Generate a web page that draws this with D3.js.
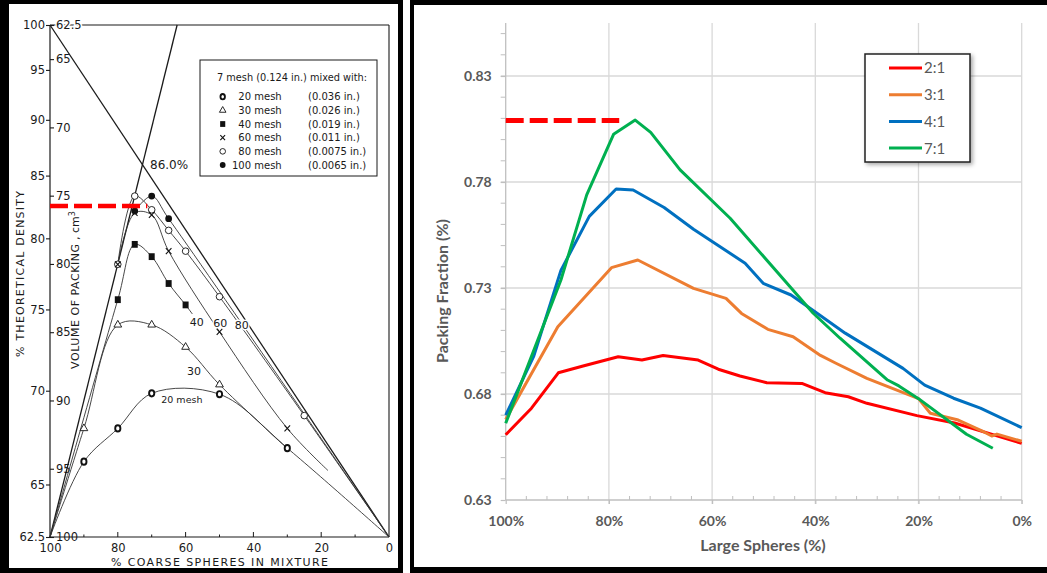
<!DOCTYPE html>
<html>
<head>
<meta charset="utf-8">
<title>Packing of binary sphere mixtures</title>
<script src="https://cdn.jsdelivr.net/npm/d3@7/dist/d3.min.js"></script>
<style>
  html, body { margin: 0; padding: 0; background: #fff; }
  svg { display: block; }
</style>
</head>
<body>
<svg id="chart" width="1047" height="573"></svg>
<script>
// ===== Left panel: 7 mesh coarse spheres mixed with finer spheres =====
const coarseTicks = [100, 80, 60, 40, 20, 0];
const coarseMinorTicks = [90, 70, 50, 30, 10];
const densityTicks = [100, 95, 90, 85, 80, 75, 70, 65, 62.5];
const volumeTicks = [62.5, 65, 70, 75, 80, 85, 90, 95, 100];

const meshLabels = ["20 mesh", "30 mesh", "40 mesh", "60 mesh", "80 mesh", "100 mesh"];
const meshSizes = ["(0.036 in.)", "(0.026 in.)", "(0.019 in.)", "(0.011 in.)", "(0.0075 in.)", "(0.0065 in.)"];
const meshMarkers = ["bold", "triangle", "square", "cross", "circle", "dot"];

// measured points: [% coarse spheres, % theoretical density]
const mesh20 = [[90, 66.15], [80, 67.9], [70, 69.85], [50, 69.8], [30, 66.85]];
const mesh30 = [[90, 67.9], [80, 74.0], [70, 74.0], [60, 72.6], [50, 70.35]];
const mesh40 = [[80, 75.65], [75, 79.55], [70, 78.65], [65, 76.75], [60, 75.3]];
const mesh60 = [[80, 78.1], [75, 81.95], [70, 81.8], [65, 79.05], [50, 73.55], [30, 67.9]];
const mesh80 = [[80, 78.1], [75, 83.3], [70, 82.2], [65, 80.6], [60, 79.05], [50, 75.85], [25, 68.6]];
const mesh100 = [[75, 82.1], [70, 83.3], [65, 81.5]];

// single-size packings at either end of the mixture range
const coarseOnly = [100, 62.5];
const fineOnly = [0, 62.5];
// ideal packing limits (straight lines in packing volume)
const idealFineFill = [[100, 100], [0, 62.5]];
const idealCoarseFill = [[100, 62.5], [62.5, 100]];
const idealPeak = 86.0;
const markedDensity = 82.5;
const markedDensityEnd = 71.3;

// ===== Right panel: packing fraction vs. share of large spheres =====
const ratioNames = ["2:1", "3:1", "4:1", "7:1"];
const ratioColors = ["#FF0000", "#ED7D31", "#0070C0", "#00B050"];
const fractionTicks = [0.63, 0.68, 0.73, 0.78, 0.83];
const largeTicks = [100, 80, 60, 40, 20, 0];

const large21 = [100, 95, 89.8, 85, 78.2, 73.6, 69.5, 62.7, 58.8, 54.6, 49.4, 42.6, 38.1, 33.6, 30, 20.3, 13, 0];
const pack21 = [0.6608, 0.6733, 0.690, 0.6932, 0.6976, 0.696, 0.6982, 0.696, 0.6917, 0.6885, 0.6853, 0.685, 0.6806, 0.6787, 0.6756, 0.6698, 0.6663, 0.6567];

const large31 = [100, 89.9, 79.5, 74.4, 63.6, 57.3, 54.3, 49.2, 44.3, 39, 36, 30, 20, 17.7, 12.3, 7.4, 5.8, 4.8, 0];
const pack31 = [0.668, 0.7117, 0.7396, 0.7432, 0.7298, 0.7251, 0.718, 0.7105, 0.707, 0.6982, 0.6945, 0.6874, 0.6778, 0.6709, 0.6677, 0.6622, 0.6602, 0.6611, 0.6577];

const large41 = [100, 94.6, 89.3, 83.8, 78.6, 75.3, 69.3, 63.6, 53.6, 50.1, 44.7, 40.2, 34.2, 23, 18.8, 13.2, 8, 0];
const pack41 = [0.670, 0.6976, 0.7383, 0.7638, 0.7767, 0.7762, 0.768, 0.7577, 0.7417, 0.7322, 0.7267, 0.719, 0.7087, 0.6921, 0.6842, 0.678, 0.6733, 0.6641];

const large71 = [100, 89.3, 84.3, 79.1, 74.9, 71.9, 66.2, 56.5, 40.4, 35.2, 26, 23.8, 20, 10.7, 5.6];
const pack71 = [0.6662, 0.7338, 0.7739, 0.8025, 0.8092, 0.8034, 0.7857, 0.7629, 0.7181, 0.7063, 0.6866, 0.6838, 0.6778, 0.661, 0.6544];

const peakFraction = 0.809;
const peakFractionEnd = 78;

// ------------------------------------------------------------------
const svg = d3.select("#chart");
const ink = "#1a1a1a";
const oldFont = "DejaVu Sans";

// panel frames
svg.append("rect").attr("x", 0).attr("y", 0).attr("width", 403).attr("height", 573).attr("fill", "#000");
svg.append("rect").attr("x", 9).attr("y", 4).attr("width", 389).attr("height", 564).attr("fill", "#fff");
svg.append("rect").attr("x", 410).attr("y", 0).attr("width", 637).attr("height", 573).attr("fill", "#000");
svg.append("rect").attr("x", 414).attr("y", 5).attr("width", 633).attr("height", 562).attr("fill", "#fff");

// ================= left panel =================
const gL = svg.append("g").attr("font-family", oldFont);
const xL = d3.scaleLinear().domain([100, 0]).range([50, 389]);
const vL = d3.scaleLinear().domain([62.5, 100]).range([25, 537]);   // packing volume, cm^3
const yL = d => vL(6250 / d);                                         // theoretical density -> volume

// outer frame (top and right)
gL.append("line").attr("x1", xL(100)).attr("x2", xL(0)).attr("y1", vL(62.5)).attr("y2", vL(62.5))
  .attr("stroke", ink).attr("stroke-width", 1.1);
gL.append("line").attr("x1", xL(0)).attr("x2", xL(0)).attr("y1", vL(62.5)).attr("y2", vL(100))
  .attr("stroke", ink).attr("stroke-width", 1.1);

// density axis (outside) and volume axis (inside)
const fmt = d3.format("~g");
const denAxis = gL.append("g").attr("transform", `translate(${xL(100)},0)`)
  .call(d3.axisLeft(vL).tickValues(densityTicks.map(d => 6250 / d))
    .tickFormat(v => fmt(Math.round(6250 / v * 10) / 10)).tickSize(4).tickPadding(1));
const volAxis = gL.append("g").attr("transform", `translate(${xL(100)},0)`)
  .call(d3.axisRight(vL).tickValues(volumeTicks).tickFormat(fmt).tickSize(4).tickPadding(2));
[denAxis, volAxis].forEach(g => {
  g.select(".domain").remove();
  g.attr("font-family", oldFont).attr("font-size", 11.5);
  g.selectAll("line").attr("stroke", ink).attr("stroke-width", 1.1);
  g.selectAll("text").attr("fill", ink);
});
volAxis.selectAll("text").style("paint-order", "stroke").attr("stroke", "#fff").attr("stroke-width", 3);
gL.append("line").attr("x1", xL(100)).attr("x2", xL(100)).attr("y1", vL(62.5)).attr("y2", vL(100))
  .attr("stroke", ink).attr("stroke-width", 1.2);

// coarse-sphere axis
const botAxis = gL.append("g").attr("transform", `translate(0,${vL(100)})`)
  .call(d3.axisBottom(xL).tickValues(coarseTicks).tickFormat(fmt).tickSize(0).tickPadding(7));
botAxis.select(".domain").remove();
botAxis.attr("font-family", oldFont).attr("font-size", 11.5).selectAll("text").attr("fill", ink);
gL.append("line").attr("x1", xL(100)).attr("x2", xL(0)).attr("y1", vL(100)).attr("y2", vL(100))
  .attr("stroke", ink).attr("stroke-width", 1.2);
gL.selectAll(".majTick").data(coarseTicks.slice(1, -1)).join("line")
  .attr("x1", d => xL(d)).attr("x2", d => xL(d)).attr("y1", vL(100)).attr("y2", vL(100) - 5)
  .attr("stroke", ink);
gL.selectAll(".minTick").data(coarseMinorTicks).join("line")
  .attr("x1", d => xL(d)).attr("x2", d => xL(d)).attr("y1", vL(100)).attr("y2", vL(100) - 2.5)
  .attr("stroke", ink);

// axis titles
gL.append("text").attr("x", (xL(100) + xL(0)) / 2).attr("y", 566)
  .attr("text-anchor", "middle").attr("font-size", 11).attr("fill", ink)
  .attr("textLength", 217).attr("lengthAdjust", "spacing")
  .text("% COARSE SPHERES IN MIXTURE");
gL.append("text").attr("transform", "translate(24,274) rotate(-90)")
  .attr("text-anchor", "middle").attr("font-size", 11).attr("fill", ink)
  .attr("textLength", 166).attr("lengthAdjust", "spacing")
  .text("% THEORETICAL DENSITY");
const volTitle = gL.append("text").attr("transform", "translate(79,290) rotate(-90)")
  .attr("text-anchor", "middle").attr("font-size", 11).attr("fill", ink);
volTitle.append("tspan").attr("textLength", 125).attr("lengthAdjust", "spacing").text("VOLUME OF PACKING");
volTitle.append("tspan").text(" ,  cm");
volTitle.append("tspan").attr("font-size", 8).attr("dy", -4).text("3");

// ideal limit lines
const lineL = d3.line().x(p => xL(p[0])).y(p => yL(p[1]));
[idealFineFill, idealCoarseFill].forEach(seg => {
  gL.append("path").attr("d", lineL(seg)).attr("fill", "none").attr("stroke", ink).attr("stroke-width", 1.3);
});
gL.append("text").attr("x", 150).attr("y", 169).attr("font-size", 12).attr("fill", ink)
  .text(d3.format(".1f")(idealPeak) + "%");

// mixture curves
const curveL = d3.line().x(p => xL(p[0])).y(p => yL(p[1])).curve(d3.curveCatmullRom.alpha(0.5));
const curves = [
  [coarseOnly, ...mesh20, fineOnly],
  [coarseOnly, ...mesh30, mesh20[4]],
  [coarseOnly, ...mesh40, [58, 74.7]],
  [...mesh60, [18, 65.7]],
  [...mesh80, fineOnly],
  [...mesh100, fineOnly]
];
curves.forEach(c => {
  gL.append("path").attr("d", curveL(c)).attr("fill", "none").attr("stroke", "#333").attr("stroke-width", 0.9);
});

// inline curve labels
const curveLabels = [
  { t: "40", c: 56.7, d: 74.2 },
  { t: "60", c: 49.8, d: 74.1 },
  { t: "80", c: 43.4, d: 74.0 },
  { t: "30", c: 57.5, d: 71.17 },
  { t: "20 mesh", c: 61.1, d: 69.5 }
];
gL.selectAll(".clab").data(curveLabels).join("text")
  .attr("x", d => xL(d.c)).attr("y", d => yL(d.d)).attr("dy", "0.35em")
  .attr("text-anchor", "middle").attr("font-size", d => d.t.length > 2 ? 9.5 : 11).attr("fill", ink)
  .style("paint-order", "stroke").attr("stroke", "#fff").attr("stroke-width", 3)
  .text(d => d.t);

// markers
function drawMarker(sel, kind, s) {
  s = s || 1;
  if (kind === "bold") {
    sel.append("ellipse").attr("rx", 2.6 * s).attr("ry", 3.1 * s).attr("fill", "#fff").attr("stroke", "#111").attr("stroke-width", 1.9);
  } else if (kind === "triangle") {
    sel.append("path").attr("d", d3.symbol(d3.symbolTriangle, 26 * s * s)()).attr("fill", "#fff").attr("stroke", "#111").attr("stroke-width", 0.9);
  } else if (kind === "square") {
    sel.append("rect").attr("x", -3 * s).attr("y", -3.4 * s).attr("width", 6 * s).attr("height", 6.8 * s).attr("fill", "#111");
  } else if (kind === "cross") {
    sel.append("path").attr("d", `M${-2.8 * s},${-3 * s}L${2.8 * s},${3 * s}M${-2.8 * s},${3 * s}L${2.8 * s},${-3 * s}`)
      .attr("stroke", "#111").attr("stroke-width", 1.1);
  } else if (kind === "circle") {
    sel.append("circle").attr("r", 3.3 * s).attr("fill", "#fff").attr("stroke", "#111").attr("stroke-width", 0.9);
  } else {
    sel.append("circle").attr("r", 3.4 * s).attr("fill", "#111");
  }
}
const meshSeries = [mesh20, mesh30, mesh40, mesh80, mesh60, mesh100];
const meshKinds = ["bold", "triangle", "square", "circle", "cross", "dot"];
meshSeries.forEach((pts, i) => {
  pts.forEach(p => {
    const g = gL.append("g").attr("transform", `translate(${xL(p[0])},${yL(p[1])})`);
    drawMarker(g, meshKinds[i]);
  });
});

// legend
const lgL = gL.append("g");
lgL.append("rect").attr("x", 200).attr("y", 60).attr("width", 177).attr("height", 116)
  .attr("fill", "#fff").attr("stroke", ink).attr("stroke-width", 1);
lgL.append("text").attr("x", 292).attr("y", 81).attr("text-anchor", "middle")
  .attr("font-size", 10).attr("fill", ink)
  .attr("textLength", 150).attr("lengthAdjust", "spacingAndGlyphs")
  .text("7 mesh (0.124 in.) mixed with:");
meshLabels.forEach((name, i) => {
  const yy = 96.7 + i * 13.66;
  const g = lgL.append("g").attr("transform", `translate(222.7,${yy})`);
  drawMarker(g, meshMarkers[i], 0.85);
  lgL.append("text").attr("x", 281.7).attr("y", yy).attr("dy", "0.35em").attr("text-anchor", "end")
    .attr("font-size", 10).attr("fill", ink).text(name);
  lgL.append("text").attr("x", 308).attr("y", yy).attr("dy", "0.35em")
    .attr("font-size", 10).attr("fill", ink).text(meshSizes[i]);
});

// highlighted density level
gL.append("line").attr("x1", xL(100)).attr("x2", xL(markedDensityEnd))
  .attr("y1", yL(markedDensity)).attr("y2", yL(markedDensity))
  .attr("stroke", "#FF0000").attr("stroke-width", 4.5).attr("stroke-dasharray", "18,6");

// ================= right panel =================
const gR = svg.append("g").attr("font-family", "Lato, 'Open Sans', sans-serif");
const xR = d3.scaleLinear().domain([100, 0]).range([505.7, 1021.7]);
const yR = d3.scaleLinear().domain([0.63, 0.855]).range([500, 23]);
const grid = "#D9D9D9";
const txt = "#595959";

// gridlines
gR.selectAll(".hg").data(fractionTicks.slice(1)).join("line")
  .attr("x1", xR(100) - 5).attr("x2", xR(0)).attr("y1", d => yR(d)).attr("y2", d => yR(d))
  .attr("stroke", grid).attr("stroke-width", 1.3);
gR.selectAll(".vg").data(largeTicks.slice(1)).join("line")
  .attr("x1", d => xR(d)).attr("x2", d => xR(d)).attr("y1", yR(0.855)).attr("y2", yR(0.63) + 4)
  .attr("stroke", grid).attr("stroke-width", 1.3);

// minor ticks
const minorFrac = d3.range(0.64, 0.855, 0.01).filter(v => !fractionTicks.some(t => Math.abs(t - v) < 1e-6));
gR.selectAll(".ym").data(minorFrac).join("line")
  .attr("x1", xR(100) - 5).attr("x2", xR(100)).attr("y1", d => yR(d)).attr("y2", d => yR(d))
  .attr("stroke", "#BFBFBF").attr("stroke-width", 1);
const minorLarge = d3.range(96, 0, -4).filter(v => v % 20 !== 0);
gR.selectAll(".xm").data(minorLarge).join("line")
  .attr("x1", d => xR(d)).attr("x2", d => xR(d)).attr("y1", yR(0.63) - 4).attr("y2", yR(0.63))
  .attr("stroke", "#BFBFBF").attr("stroke-width", 1);

// axes
const yAxR = gR.append("g").attr("transform", `translate(${xR(100)},0)`)
  .call(d3.axisLeft(yR).tickValues(fractionTicks).tickFormat(d3.format(".2f")).tickSize(5).tickPadding(9));
const xAxR = gR.append("g").attr("transform", `translate(0,${yR(0.63)})`)
  .call(d3.axisBottom(xR).tickValues(largeTicks).tickFormat(d => d + "%").tickSize(4).tickPadding(12));
[yAxR, xAxR].forEach(g => {
  g.attr("font-family", "Lato, 'Open Sans', sans-serif").attr("font-size", 14).attr("font-weight", "bold");
  g.select(".domain").remove();
  g.selectAll("line").attr("stroke", "#BFBFBF").attr("stroke-width", 1.2);
  g.selectAll("text").attr("fill", txt);
});
gR.append("line").attr("x1", xR(100)).attr("x2", xR(100)).attr("y1", yR(0.855)).attr("y2", yR(0.63))
  .attr("stroke", "#BFBFBF").attr("stroke-width", 1.3);
gR.append("line").attr("x1", xR(100)).attr("x2", xR(0)).attr("y1", yR(0.63)).attr("y2", yR(0.63))
  .attr("stroke", "#BFBFBF").attr("stroke-width", 1.3);

gR.append("text").attr("x", 763).attr("y", 551).attr("text-anchor", "middle")
  .attr("font-size", 16).attr("font-weight", "bold").attr("fill", txt).text("Large Spheres (%)");
gR.append("text").attr("transform", "translate(448,291) rotate(-90)").attr("text-anchor", "middle")
  .attr("font-size", 16).attr("font-weight", "bold").attr("fill", txt).text("Packing Fraction (%)");

// series
const seriesR = [
  { x: large21, y: pack21 },
  { x: large31, y: pack31 },
  { x: large41, y: pack41 },
  { x: large71, y: pack71 }
];
const lineR = d3.line().x(d => xR(d[0])).y(d => yR(d[1]));
seriesR.forEach((s, i) => {
  gR.append("path").attr("d", lineR(d3.zip(s.x, s.y))).attr("fill", "none")
    .attr("stroke", ratioColors[i]).attr("stroke-width", 3).attr("stroke-linejoin", "round");
});

// highlighted packing level
gR.append("line").attr("x1", xR(100)).attr("x2", xR(peakFractionEnd))
  .attr("y1", yR(peakFraction)).attr("y2", yR(peakFraction))
  .attr("stroke", "#FF0000").attr("stroke-width", 5).attr("stroke-dasharray", "18,6");

// legend
const defs = svg.append("defs");
const f = defs.append("filter").attr("id", "shadow").attr("x", "-20%").attr("y", "-20%").attr("width", "150%").attr("height", "150%");
f.append("feDropShadow").attr("dx", 2).attr("dy", 2).attr("stdDeviation", 2).attr("flood-color", "#000").attr("flood-opacity", 0.35);
const lgR = gR.append("g");
lgR.append("rect").attr("x", 865).attr("y", 54).attr("width", 105).attr("height", 108)
  .attr("fill", "#fff").attr("stroke", "#222").attr("stroke-width", 1.5).attr("filter", "url(#shadow)");
ratioNames.forEach((name, i) => {
  const yy = 68 + i * 26.7;
  lgR.append("line").attr("x1", 889).attr("x2", 922).attr("y1", yy).attr("y2", yy)
    .attr("stroke", ratioColors[i]).attr("stroke-width", 3);
  lgR.append("text").attr("x", 924).attr("y", yy).attr("dy", "0.36em")
    .attr("font-size", 15).attr("fill", txt).text(name);
});
</script>
</body>
</html>
